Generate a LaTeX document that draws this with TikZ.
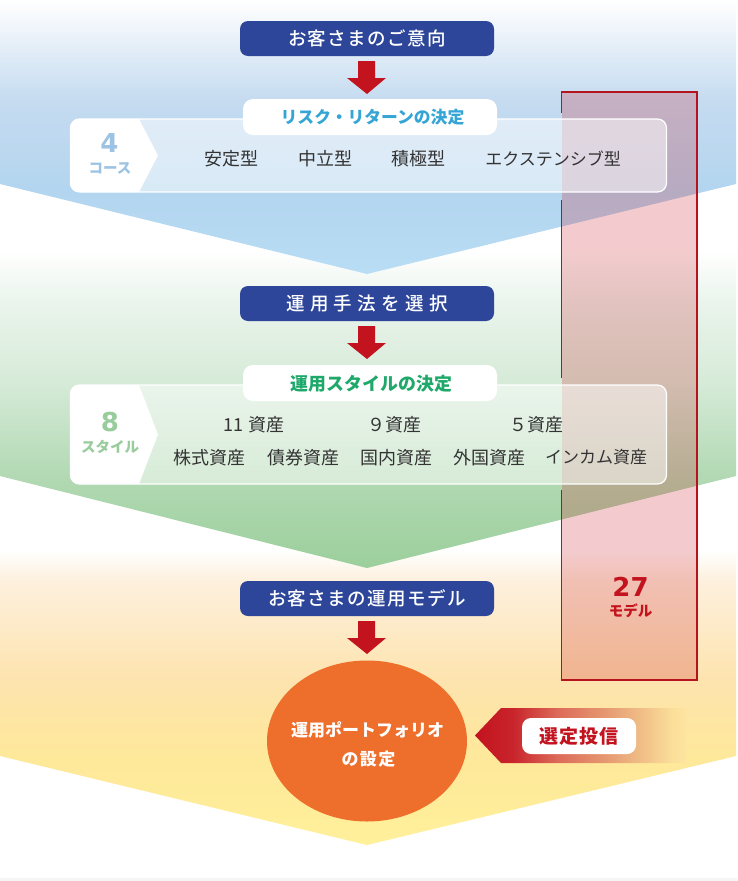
\documentclass[tikz,border=0pt]{standalone}
\usepackage{fontspec}
\usetikzlibrary{calc}
\newfontfamily\cjk{Noto Sans CJK JP}
\newfontfamily\cjkm{Noto Sans CJK JP Medium}
\newfontfamily\lat{DejaVu Sans}
\definecolor{navy}{HTML}{2D4699}
\definecolor{crimson}{HTML}{C2131F}
\definecolor{boxred}{HTML}{C91622}
\definecolor{cyanT}{HTML}{35A5D6}
\definecolor{greenT}{HTML}{1EA86A}
\definecolor{blueN}{HTML}{9CC3E3}
\definecolor{greenN}{HTML}{99CC9C}
\definecolor{orangeE}{HTML}{EE6E2B}
\definecolor{inkT}{HTML}{333333}
\definecolor{pA}{HTML}{C9242C}
\definecolor{pB}{HTML}{DC6A58}
\definecolor{pC}{HTML}{E69A72}
\definecolor{pD}{HTML}{F0BD86}
\definecolor{pE}{HTML}{FBDF9A}
\definecolor{pF}{HTML}{FDE4A0}
\definecolor{aA}{HTML}{C5DBF0}
\definecolor{aB}{HTML}{B3D5EF}
\definecolor{aC}{HTML}{B9DDF5}
\definecolor{bA}{HTML}{EAF4EC}
\definecolor{bB}{HTML}{D7EBD9}
\definecolor{bC}{HTML}{B2D9B3}
\definecolor{bD}{HTML}{9CCF9C}
\definecolor{cA}{HTML}{FDF0DD}
\definecolor{cB}{HTML}{FDE3AE}
\definecolor{cC}{HTML}{FEE89A}
\definecolor{cD}{HTML}{FFF09A}
\pgfdeclareverticalshading{bandOne}{100bp}{color(0bp)=(aC);color(25bp)=(aC);color(40.33bp)=(aB);color(56.75bp)=(aA);color(75bp)=(white);color(100bp)=(white)}
\pgfdeclareverticalshading{bandTwo}{100bp}{color(0bp)=(bD);color(25bp)=(bD);color(39.5bp)=(bC);color(54.6bp)=(bB);color(66.8bp)=(bA);color(75bp)=(white);color(100bp)=(white)}
\pgfdeclareverticalshading{bandThree}{100bp}{color(0bp)=(cD);color(25bp)=(cD);color(40.1bp)=(cC);color(53bp)=(cB);color(69.7bp)=(cA);color(75bp)=(white);color(100bp)=(white)}
\pgfdeclarehorizontalshading{pickFade}{100bp}{color(0bp)=(crimson);color(25bp)=(crimson);color(34bp)=(pA);color(44.4bp)=(pB);color(56.3bp)=(pC);color(64.1bp)=(pD);color(71.9bp)=(pE);color(75bp)=(pF);color(100bp)=(pF)}
\tikzset{
  every node/.style={inner sep=0pt, outer sep=0pt},
  navypill/.style={fill=navy, rounded corners=8pt, minimum width=254pt, minimum height=35pt, text=white, font=\cjkm\fontsize{18.5}{19}\selectfont},
  titlepill/.style={fill=white, rounded corners=10pt, minimum width=254pt, minimum height=36pt},
  glasspanel/.style={fill=white, fill opacity=.5, draw=white, line width=1.2pt, rounded corners=9pt},
  item/.style={text=inkT, font=\cjk\fontsize{17}{18}\selectfont},
  itembig/.style={text=inkT, font=\cjk\fontsize{18}{18}\selectfont},
  bignum/.style={font=\lat\bfseries\fontsize{26}{30}\selectfont},
  unitlab/.style={font=\cjk\bfseries\fontsize{14.5}{16}\selectfont},
  blockarrow/.style={fill=crimson},
  redframe/.style={draw=boxred!90!black, line width=1.6pt},
}
\newcommand{\downblock}[1]{%
  \fill[blockarrow, shift={(#1.south)}] (-9,5) -- (8,5) -- (8,22) -- (19,22) -- (0,38) -- (-20,22) -- (-9,22) -- cycle;}
\newcommand{\whitetab}[3]{% top, tip, bottom
  \fill[white] (139,#1) -- (158,#2) -- (139,#3) [rounded corners=9pt] -- (70,#3) -- (70,#1) [sharp corners] -- (139,#1) -- cycle;}
\begin{document}
\begin{tikzpicture}[x=1pt,y=-1pt]
\useasboundingbox (0,0) rectangle (737,881);
\fill[white] (0,0) rectangle (737,881);
\fill[black!4] (0,878) rectangle (737,881);
% bands
\path[shading=bandThree] (0,550) -- (736,550) -- (736,756) -- (367,845) -- (0,756) -- cycle;
\path[shading=bandTwo] (0,250) -- (736,250) -- (736,476) -- (367,568) -- (0,476) -- cycle;
\path[shading=bandOne] (0,0) -- (736,0) -- (736,184) -- (367,274) -- (0,184) -- cycle;
% red translucent box
\fill[boxred, fill opacity=.22] (561.5,92) rectangle (697,680);
\draw[redframe] (561.5,113) -- (561.5,92) -- (697,92) -- (697,680) -- (561.5,680) -- (561.5,490);
\draw[redframe] (561.5,378) -- (561.5,200);
% panels
\node[glasspanel, minimum width=596pt, minimum height=73pt, anchor=north west] (panelA) at (70.5,119) {};
\whitetab{119}{155.5}{192}
\node[glasspanel, minimum width=596pt, minimum height=99pt, anchor=north west] (panelB) at (70.5,385) {};
\whitetab{385}{434.5}{484}
% navy pills
\node[navypill] (askA) at (367,38.5) {\addfontfeature{LetterSpace=7.7}お客さまのご意向};
\node[navypill] (askB) at (367,303.5) {\addfontfeature{LetterSpace=29}運用手法を選択};
\node[navypill] (askC) at (367,598.5) {\addfontfeature{LetterSpace=7.7}お客さまの運用モデル};
% title pills
\node[titlepill] (titleA) at (370,117) {};
\node[text=cyanT, font=\cjk\bfseries\fontsize{16.8}{18}\selectfont] (titleAt) at (372.5,117.5) {リスク・リターンの決定};
\node[titlepill] (titleB) at (370,383) {};
\node[text=greenT, font=\cjk\bfseries\fontsize{17.9}{18}\selectfont] (titleBt) at (371.5,383.5) {運用スタイルの決定};
% block arrows
\downblock{askA}
\downblock{askB}
\downblock{askC}
% panel A content
\node[bignum, text=blueN] (numA) at (109.5,143) {4};
\node[unitlab, text=blueN] (unitA) at (110,168) {コース};
\node[itembig] (a1) at (231,158.5) {安定型};
\node[itembig] (a2) at (325,158.5) {中立型};
\node[itembig] (a3) at (418,158.5) {積極型};
\node[item] (a4) at (553,158.5) {エクステンシブ型};
% panel B content
\node[bignum, text=greenN] (numB) at (110,422) {8};
\node[unitlab, text=greenN] (unitB) at (110,447) {スタイル};
\node[itembig] (b1) at (254,424.5) {11\,\,資産};
\node[itembig] (b2) at (394,424.5) {９資産};
\node[itembig] (b3) at (536,424.5) {５資産};
\node[itembig] (c1) at (209,457.5) {株式資産};
\node[itembig] (c2) at (303,457.5) {債券資産};
\node[itembig] (c3) at (396,457.5) {国内資産};
\node[itembig] (c4) at (489,457.5) {外国資産};
\node[item] (c5) at (596,457.5) {インカム資産};
% 27 models
\node[bignum, text=crimson] (numC) at (630.5,587) {27};
\node[unitlab, text=crimson, font=\cjk\bfseries\fontsize{14.5}{16}\selectfont] (unitC) at (630.5,611) {モデル};
% ellipse
\fill[orangeE] (367,741) ellipse [x radius=100, y radius=80.5];
\node[text=white, font=\cjk\bfseries\fontsize{17}{20}\selectfont] (ellA) at (367.5,730) {運用ポートフォリオ};
\node[text=white, font=\cjk\bfseries\fontsize{17}{20}\selectfont] (ellB) at (368.5,759) {\addfontfeature{LetterSpace=8}の設定};
% selection arrow
\path[shading=pickFade] (475,735.5) -- (501,708) -- (686,708) -- (686,763) -- (501,763) -- cycle;
\node[fill=white, rounded corners=9pt, minimum width=114pt, minimum height=36pt, text=crimson, font=\cjk\bfseries\fontsize{19}{20}\selectfont] (pick) at (579,736) {\addfontfeature{LetterSpace=4}選定投信};
\end{tikzpicture}
\end{document}
